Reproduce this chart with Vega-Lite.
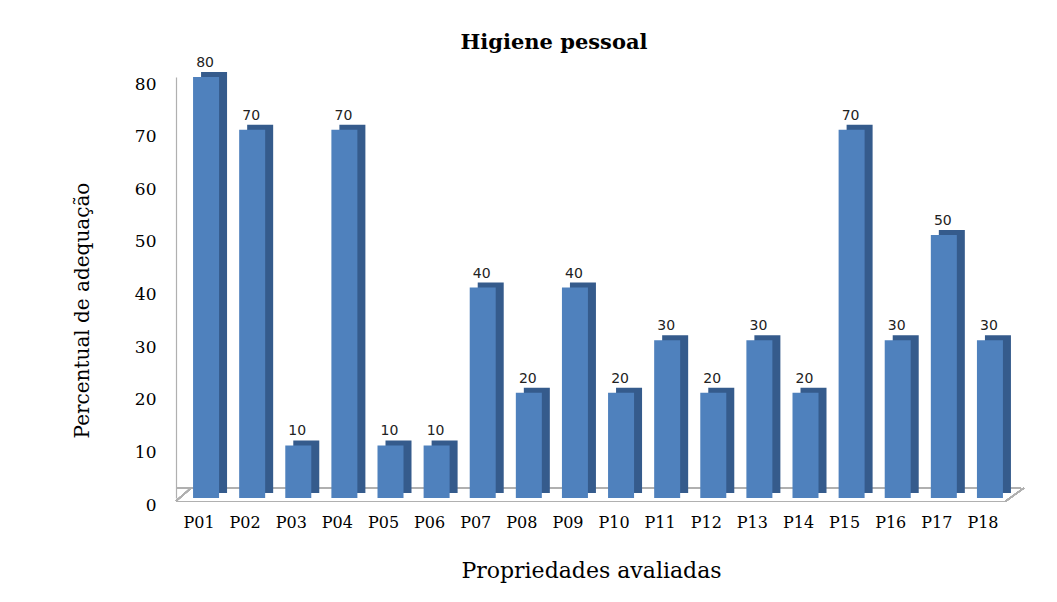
{
  "$schema": "https://vega.github.io/schema/vega-lite/v6.json",
  "width": 830,
  "height": 421,
  "autosize": "none",
  "padding": {"left": 176, "top": 77, "right": 51, "bottom": 104},
  "background": "white",
  "config": {
    "view": {"stroke": null},
    "axis": {
      "ticks": false,
      "grid": false,
      "labelFont": "DejaVu Serif",
      "labelColor": "#000000",
      "titleFont": "DejaVu Serif",
      "titleFontSize": 20,
      "titleFontWeight": "normal",
      "titleColor": "#000000",
      "domainColor": "#b0b0b0",
      "domainWidth": 1.2
    }
  },
  "title": {
    "text": "Higiene pessoal",
    "font": "DejaVu Serif",
    "fontSize": 21,
    "fontWeight": "bold",
    "color": "#000000",
    "dx": -37,
    "offset": 3
  },
  "data": {
    "values": [
      {"prop": "P01", "pct": 80},
      {"prop": "P02", "pct": 70},
      {"prop": "P03", "pct": 10},
      {"prop": "P04", "pct": 70},
      {"prop": "P05", "pct": 10},
      {"prop": "P06", "pct": 10},
      {"prop": "P07", "pct": 40},
      {"prop": "P08", "pct": 20},
      {"prop": "P09", "pct": 40},
      {"prop": "P10", "pct": 20},
      {"prop": "P11", "pct": 30},
      {"prop": "P12", "pct": 20},
      {"prop": "P13", "pct": 30},
      {"prop": "P14", "pct": 20},
      {"prop": "P15", "pct": 70},
      {"prop": "P16", "pct": 30},
      {"prop": "P17", "pct": 50},
      {"prop": "P18", "pct": 30}
    ]
  },
  "layer": [
    {
      "mark": {"type": "rule", "color": "#b0b0b0", "strokeWidth": 1.2, "xOffset": 15, "yOffset": -10},
      "encoding": {
        "y": {"datum": 0, "type": "quantitative"}
      }
    },
    {
      "mark": {"type": "rule", "color": "#b0b0b0", "strokeWidth": 1.2, "xOffset": -23, "yOffset": 3, "x2Offset": -8, "y2Offset": -10},
      "encoding": {
        "x": {"datum": "P01", "type": "nominal"},
        "x2": {"datum": "P01"},
        "y": {"datum": 0, "type": "quantitative"},
        "y2": {"datum": 0}
      }
    },
    {
      "mark": {"type": "rule", "color": "#b0b0b0", "strokeWidth": 1.2, "xOffset": 23, "yOffset": 3, "x2Offset": 41, "y2Offset": -10},
      "encoding": {
        "x": {"datum": "P18", "type": "nominal"},
        "x2": {"datum": "P18"},
        "y": {"datum": 0, "type": "quantitative"},
        "y2": {"datum": 0}
      }
    },
    {
      "encoding": {
        "x": {
          "field": "prop",
          "type": "nominal",
          "title": "Propriedades avaliadas",
          "scale": {"paddingInner": 0, "paddingOuter": 0},
          "axis": {"labelAngle": 0, "labelAlign": "center", "labelBaseline": "middle", "labelFontSize": 16, "labelPadding": 21, "offset": 3, "titlePadding": 30, "titleFontSize": 22}
        },
        "y": {
          "field": "pct",
          "type": "quantitative",
          "title": "Percentual de adequação",
          "scale": {"domain": [0, 80], "nice": false},
          "axis": {"values": [0, 10, 20, 30, 40, 50, 60, 70, 80], "labelFontSize": 17, "labelPadding": 20, "labelOffset": 7, "titlePadding": 42, "titleY": 233}
        }
      },
      "layer": [
        {"mark": {"type": "bar", "width": 26, "color": "#355b8c", "xOffset": 15, "yOffset": -5}},
        {"mark": {"type": "bar", "width": 26, "color": "#4f81bd", "xOffset": 7}},
        {
          "mark": {"type": "text", "font": "DejaVu Sans", "fontSize": 14, "color": "#222222", "dx": 6, "dy": -10, "baseline": "alphabetic"},
          "encoding": {"text": {"field": "pct", "type": "quantitative"}}
        }
      ]
    }
  ]
}
